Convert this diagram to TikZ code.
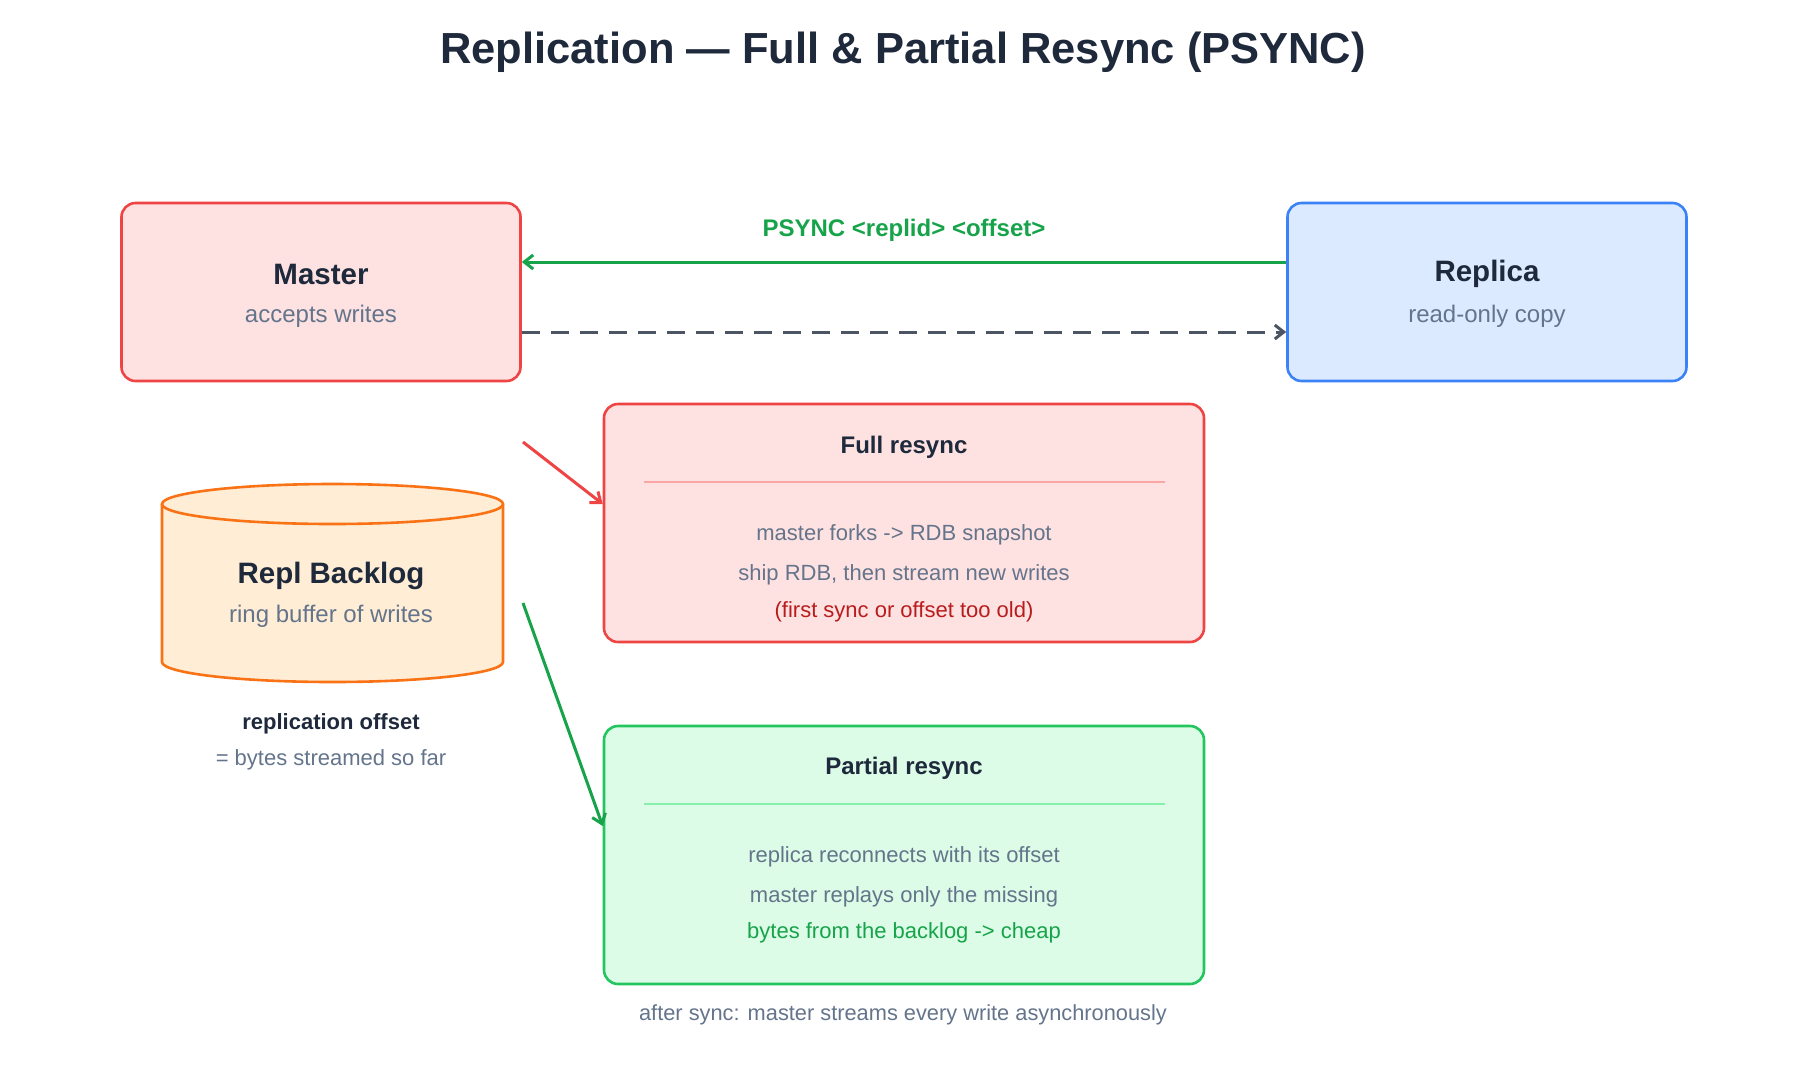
\documentclass[tikz,border=0pt]{standalone}
\usepackage{fontspec}
\setmainfont{Liberation Sans}
\usetikzlibrary{arrows.meta}
\definecolor{rs}{HTML}{EF4444}\definecolor{rf}{HTML}{FEE2E2}
\definecolor{bs}{HTML}{3B82F6}\definecolor{bf}{HTML}{DBEAFE}
\definecolor{gs}{HTML}{22C55E}\definecolor{gf}{HTML}{DCFCE7}
\definecolor{os}{HTML}{F97316}\definecolor{of}{HTML}{FFEDD5}
\definecolor{tx}{HTML}{1E293B}\definecolor{mut}{HTML}{64748B}
\definecolor{dred}{HTML}{B91C1C}\definecolor{dgr}{HTML}{16A34A}
\definecolor{dash}{HTML}{4B5563}\definecolor{rl}{HTML}{FCA5A5}\definecolor{gl}{HTML}{86EFAC}
\begin{document}
\begin{tikzpicture}[x=1pt,y=-1pt,
  box/.style={draw=#1,line width=2.6pt,rounded corners=14pt,inner sep=0pt},
  ttl/.style={font=\bfseries\fontsize{29.5}{34}\selectfont,text=tx},
  sub/.style={font=\fontsize{24}{28}\selectfont,text=mut},
  btl/.style={font=\bfseries\fontsize{24}{28}\selectfont,text=tx},
  bt/.style={font=\fontsize{22}{26}\selectfont,text=mut},
  arr/.style={line width=3pt,-{Straight Barb[length=9pt,width=14pt]}}]
\useasboundingbox (0,0) rectangle (1800,1080);
\node[font=\bfseries\fontsize{43.5}{50}\selectfont,text=tx] (title) at (903,52) {Replication — Full \& Partial Resync (PSYNC)};
% master / replica
\node[box=rs,fill=rf,minimum width=399pt,minimum height=178pt] (master) at (321,292) {};
\node[ttl] (mt) at (321,274) {Master};
\node[sub] (ms) at (321,316) {accepts writes};
\node[box=bs,fill=bf,minimum width=399pt,minimum height=178pt] (replica) at (1487,292) {};
\node[ttl] (rt) at (1487,274) {Replica};
\node[sub] (rsub) at (1487,316) {read-only copy};
\draw[arr,draw=dgr] (replica.west|-0,262) -- (master.east|-0,262);
\node[font=\bfseries\fontsize{24}{28}\selectfont,text=dgr] (pl) at (904,230) {PSYNC <replid> <offset>};
\draw[arr,draw=dash,dash pattern=on 18pt off 11pt] (master.east|-0,332) -- (replica.west|-0,332);
% full resync
\node[box=rs,fill=rf,minimum width=600pt,minimum height=238pt] (full) at (904,523) {};
\node[btl] (ft) at (904,447) {Full resync};
\draw[rl,line width=1.3pt] (644,482) -- (1165,482);
\node[bt] (f1) at (904,535) {master forks -> RDB snapshot};
\node[bt] (f2) at (904,575) {ship RDB, then stream new writes};
\node[bt,text=dred] (f3) at (904,612) {(first sync or offset too old)};
% partial
\node[box=gs,fill=gf,minimum width=600pt,minimum height=258pt] (part) at (904,855) {};
\node[btl] (pt) at (904,768) {Partial resync};
\draw[gl,line width=1.3pt] (644,804) -- (1165,804);
\node[bt] (p1) at (904,857) {replica reconnects with its offset};
\node[bt] (p2) at (904,897) {master replays only the missing};
\node[bt,text=dgr] (p3) at (904,933) {bytes from the backlog -> cheap};
% cylinder
\fill[of] (162,504) rectangle (503,662);
\draw[os,line width=2.6pt,fill=of] (162,504) -- (162,662) arc[start angle=180,end angle=360,x radius=170.5pt,y radius=20pt] -- (503,504);
\draw[os,line width=2.6pt,fill=of] (332.5,504) ellipse[x radius=170.5pt,y radius=20pt];
\node[inner sep=0pt,minimum width=341pt,minimum height=182pt] (backlog) at (332.5,583) {};
\node[ttl] (bkt) at (331,576) {Repl Backlog};
\node[sub] (bks) at (331,616) {ring buffer of writes};
\node[btl,font=\bfseries\fontsize{22}{26}\selectfont] (ro) at (331,724) {replication offset};
\node[bt] (ro2) at (331,760) {= bytes streamed so far};
% arrows to resyncs
\coordinate (a1) at (523,442);
\coordinate (a2) at (523,603);
\draw[arr,draw=rs] (a1) -- (full.west|-0,504);
\draw[arr,draw=dgr] (a2) -- (part.west|-0,826);
\node[bt,font=\fontsize{21.8}{26}\selectfont] (foot) at (903,1015) {after sync: master streams every write asynchronously};
\end{tikzpicture}
\end{document}
